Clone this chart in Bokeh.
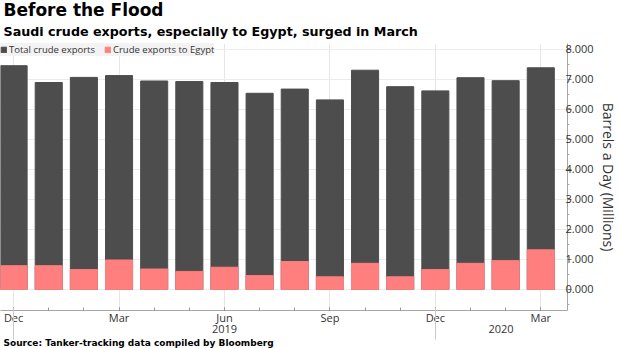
from bokeh.plotting import figure
from bokeh.models import (LinearAxis, FixedTicker, NumeralTickFormatter, Title,
                          ColumnDataSource, Range1d, Legend, LegendItem)
from bokeh.embed import file_html
from bokeh.resources import INLINE

months = ["Dec", "Jan", "Feb", "Mar", "Apr", "May", "Jun", "Jul", "Aug",
          "Sep", "Oct", "Nov", "Dec", "Jan", "Feb", "Mar"]
total = [7.46, 6.90, 7.07, 7.13, 6.95, 6.93, 6.90, 6.54, 6.68, 6.32,
         7.31, 6.76, 6.62, 7.06, 6.96, 7.39]
egypt = [0.79, 0.79, 0.66, 0.98, 0.68, 0.60, 0.74, 0.46, 0.93, 0.42,
         0.87, 0.42, 0.66, 0.87, 0.96, 1.32]
major_idx = [0, 3, 6, 9, 12, 15]
years = ["2019", "2020"]
year_pos = [6.0, 13.87]
year_sep = [0, 12]

idx = list(range(len(months)))
src = ColumnDataSource(dict(x=idx, total=total, egypt=egypt))

p = figure(width=620, height=348, output_backend="svg", toolbar_location=None,
           x_range=Range1d(-0.3725, 15.76), y_range=Range1d(-0.703, 8.2),
           min_border_left=0, min_border_right=0, min_border_top=42,
           min_border_bottom=0, x_axis_location=None, y_axis_location=None)
p.outline_line_color = None
p.background_fill_color = "white"

r1 = p.vbar(x="x", top="total", width=0.77, source=src, color="#4d4d4d")
r2 = p.vbar(x="x", top="egypt", width=0.77, source=src, color="#ff7f7f")

# month axis
xa = LinearAxis(ticker=FixedTicker(ticks=major_idx, minor_ticks=idx))
xa.major_label_overrides = {i: months[i] for i in major_idx}
xa.axis_line_color = "#a6a6a6"
xa.major_tick_in = 3
xa.major_tick_out = 0
xa.minor_tick_in = 3
xa.minor_tick_out = 0
xa.major_tick_line_color = "#777777"
xa.minor_tick_line_color = "#999999"
xa.major_label_text_font = "Open Sans"
xa.major_label_text_font_size = "11px"
xa.major_label_text_color = "#333333"
xa.major_label_standoff = -1
p.add_layout(xa, "below")

# year axis (labels + year separators as minor ticks)
yr_ax = LinearAxis(ticker=FixedTicker(ticks=year_pos, minor_ticks=year_sep))
yr_ax.major_label_overrides = {k: v for k, v in zip(year_pos, years)}
yr_ax.axis_line_color = None
yr_ax.major_tick_line_color = None
yr_ax.major_tick_in = 0
yr_ax.major_tick_out = 0
yr_ax.minor_tick_line_color = "#c8c8c8"
yr_ax.minor_tick_in = 20
yr_ax.minor_tick_out = 12
yr_ax.major_label_text_font = "Open Sans"
yr_ax.major_label_text_font_size = "11px"
yr_ax.major_label_text_color = "#333333"
yr_ax.major_label_standoff = -15
p.add_layout(yr_ax, "below")

p.add_layout(Title(text="Source: Tanker-tracking data compiled by Bloomberg",
                   text_font="DejaVu Sans", text_font_style="bold",
                   text_font_size="9px", text_color="black", standoff=1,
                   offset=3), "below")

# right axis
ya = LinearAxis(ticker=FixedTicker(ticks=list(range(0, 9)),
                                   minor_ticks=[k + 0.5 for k in range(-1, 8)]),
                formatter=NumeralTickFormatter(format="0.000"))
ya.axis_line_color = "#a6a6a6"
ya.major_tick_in = 0
ya.major_tick_out = 4
ya.minor_tick_in = 0
ya.minor_tick_out = 2
ya.major_tick_line_color = "#888888"
ya.minor_tick_line_color = "#aaaaaa"
ya.major_label_text_font = "Open Sans"
ya.major_label_text_font_size = "11px"
ya.major_label_text_color = "#333333"
ya.major_label_standoff = -6
ya.axis_label = "Barrels a Day (Millions)"
ya.axis_label_text_font = "Open Sans"
ya.axis_label_text_font_size = "14px"
ya.axis_label_text_font_style = "normal"
ya.axis_label_text_color = "#333333"
ya.axis_label_standoff = 2
p.add_layout(ya, "right")

p.xgrid.ticker = FixedTicker(ticks=major_idx)
p.xgrid.grid_line_color = "#e6e6e6"
p.ygrid.ticker = FixedTicker(ticks=list(range(0, 9)))
p.ygrid.grid_line_color = "#ececec"

legend = Legend(items=[LegendItem(label="Total crude exports", renderers=[r1]),
                       LegendItem(label="Crude exports to Egypt", renderers=[r2])],
                location="top_left", orientation="horizontal")
legend.background_fill_color = "#f2f2f2"
legend.background_fill_alpha = 0.9
legend.border_line_color = None
legend.margin = 0
legend.padding = 6
legend.spacing = 9
legend.glyph_width = 7
legend.glyph_height = 7
legend.label_standoff = 2
legend.label_text_font = "Open Sans"
legend.label_text_font_size = "9.5px"
legend.label_text_color = "#333333"
legend.label_height = 11
p.add_layout(legend, "center")

# titles: first added is nearest the frame
p.add_layout(Title(text="Saudi crude exports, especially to Egypt, surged in March",
                   text_font="DejaVu Sans", text_font_style="bold",
                   text_font_size="12.7px", text_color="black", standoff=9,
                   offset=3), "above")
p.add_layout(Title(text="Before the Flood", text_font="DejaVu Sans",
                   text_font_style="bold", text_font_size="17px",
                   text_color="black", standoff=-5, offset=3), "above")

open("out.html", "w").write(file_html(p, INLINE))
